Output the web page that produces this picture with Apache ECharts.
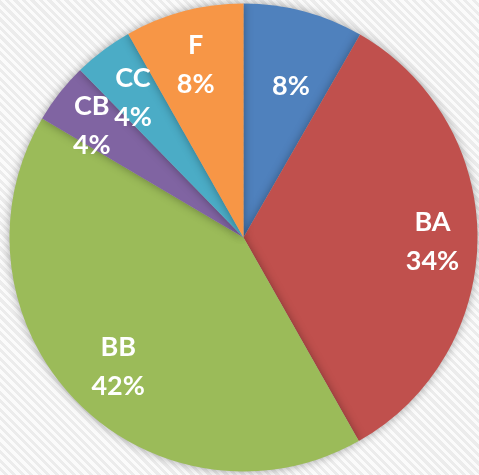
<!DOCTYPE html>
<html>
<head>
<meta charset="utf-8">
<script src="https://cdn.jsdelivr.net/npm/echarts@6/dist/echarts.min.js"></script>
<style>
  html, body { margin: 0; padding: 0; }
  body {
    background: repeating-linear-gradient(45deg, #fbfbfb 0px, #fbfbfb 3px, #ececec 3px, #ececec 6px);
  }
  #chart { width: 479px; height: 475px; }
</style>
</head>
<body>
<div id="chart"></div>
<script>
const names = ['', 'BA', 'BB', 'CB', 'CC', 'F'];
const values = [8.3, 33.5, 41.7, 4.2, 4.1, 8.2];
const colors = ['#4F81BD', '#C0504D', '#9BBB59', '#8064A2', '#4BACC6', '#F79646'];

const pieData = names.map((n, i) => ({ name: n, value: values[i], itemStyle: { color: colors[i] } }));

const myChart = echarts.init(document.getElementById('chart'), null, { renderer: 'canvas' });

// small nudges so the labels sit where the original put them
const labelShift = [[0, 27], [5, 4], [6, 0], [-7, 2], [0, 7], [-1, 5]];

const option = {
    backgroundColor: 'transparent',
    animation: false,
    series: [
        {
            type: 'pie',
            center: [243.5, 237.5],
            radius: [0, 234],
            startAngle: 90,
            clockwise: true,
            silent: true,
            label: { show: false },
            labelLine: { show: false },
            itemStyle: {
                borderWidth: 0,
                shadowBlur: 10,
                shadowColor: 'rgba(0, 0, 0, 0.35)'
            },
            data: pieData
        },
        {
            // invisible ring used only to place the labels further out
            type: 'pie',
            center: [243.5, 237.5],
            radius: [128, 234],
            startAngle: 90,
            clockwise: true,
            silent: true,
            percentPrecision: 0,
            itemStyle: { color: 'transparent' },
            labelLine: { show: false },
            label: {
                show: true,
                position: 'inside',
                color: '#fff',
                fontFamily: 'Lato',
                fontWeight: 'bold',
                fontSize: 27,
                lineHeight: 39,
                formatter: (p) => p.name ? p.name + '\n' + p.percent + '%' : p.percent + '%'
            },
            labelLayout: (p) => ({ dx: labelShift[p.dataIndex][0], dy: labelShift[p.dataIndex][1] }),
            data: names.map((n, i) => ({ name: n, value: values[i] }))
        }
    ]
};

myChart.setOption(option);
</script>
</body>
</html>
